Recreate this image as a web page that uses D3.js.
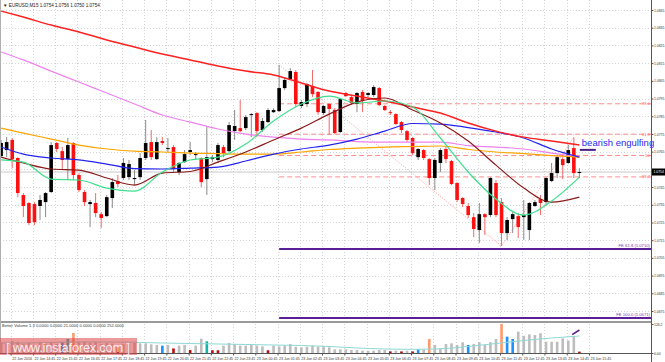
<!DOCTYPE html>
<html>
<head>
<meta charset="utf-8">
<script src="https://cdn.jsdelivr.net/npm/d3@7"></script>
<style>
html, body { margin: 0; padding: 0; background: #fff; }
svg { display: block; font-family: "Liberation Sans", Arial, sans-serif; }
</style>
</head>
<body>
<div class="container"></div>
<script>
// EURUSD M15 candles
var openP = [
  1.07625,1.07659,1.07716,1.07614,1.07405,1.07360,1.07354,1.07343,1.07365,1.07422,
  1.07699,1.07653,1.07608,1.07699,1.07518,1.07422,1.07354,1.07360,1.07297,1.07286,
  1.07388,1.07484,1.07501,1.07506,1.07495,1.07506,1.07614,1.07704,1.07608,1.07710,
  1.07665,1.07676,1.07535,1.07591,1.07648,1.07631,1.07614,1.07495,1.07608,1.07603,
  1.07676,1.07653,1.07766,1.07783,1.07783,1.07857,1.07868,1.07772,1.07817,1.07873,
  1.07879,1.08009,1.08060,1.08100,1.07908,1.07919,1.08021,1.07987,1.07868,1.07919,
  1.07885,1.07761,1.07981,1.07958,1.07919,1.07987,1.07970,1.07970,1.08009,1.07908,
  1.07873,1.07862,1.07817,1.07766,1.07727,1.07619,1.07659,1.07608,1.07501,1.07586,
  1.07665,1.07597,1.07473,1.07388,1.07343,1.07280,1.07207,1.07297,1.07292,1.07473,
  1.07365,1.07190,1.07269,1.07286,1.07280,1.07207,1.07343,1.07382,1.07365,1.07484,
  1.07529,1.07608,1.07586,1.07670,1.07535];
var highP = [
  1.07716,1.07732,1.07727,1.07619,1.07416,1.07365,1.07365,1.07405,1.07422,1.07704,
  1.07704,1.07676,1.07727,1.07704,1.07529,1.07433,1.07377,1.07416,1.07309,1.07405,
  1.07501,1.07518,1.07614,1.07603,1.07546,1.07642,1.07829,1.07772,1.07732,1.07732,
  1.07727,1.07687,1.07591,1.07659,1.07704,1.07648,1.07619,1.07789,1.07631,1.07699,
  1.07687,1.07817,1.07885,1.07942,1.07857,1.07868,1.07873,1.07840,1.07896,1.07896,
  1.08139,1.08071,1.08122,1.08111,1.07942,1.08038,1.08111,1.07992,1.07913,1.07925,
  1.07896,1.07953,1.07987,1.07970,1.07987,1.07998,1.07987,1.08026,1.08015,1.07913,
  1.07885,1.07868,1.07823,1.07772,1.07732,1.07670,1.07665,1.07614,1.07614,1.07670,
  1.07676,1.07603,1.07478,1.07393,1.07360,1.07303,1.07360,1.07303,1.07506,1.07490,
  1.07388,1.07280,1.07309,1.07303,1.07377,1.07365,1.07377,1.07405,1.07506,1.07586,
  1.07631,1.07619,1.07687,1.07732,1.07557];
var lowP = [
  1.07619,1.07619,1.07557,1.07393,1.07280,1.07235,1.07235,1.07264,1.07280,1.07416,
  1.07648,1.07546,1.07490,1.07490,1.07422,1.07343,1.07224,1.07280,1.07218,1.07280,
  1.07331,1.07450,1.07490,1.07490,1.07461,1.07490,1.07603,1.07603,1.07603,1.07687,
  1.07648,1.07535,1.07518,1.07586,1.07631,1.07603,1.07450,1.07405,1.07591,1.07586,
  1.07619,1.07648,1.07716,1.07761,1.07772,1.07732,1.07732,1.07761,1.07812,1.07868,
  1.07873,1.07998,1.08055,1.07902,1.07896,1.07902,1.07958,1.07857,1.07857,1.07744,
  1.07749,1.07755,1.07958,1.07913,1.07873,1.07873,1.07958,1.07958,1.07908,1.07879,
  1.07857,1.07800,1.07755,1.07704,1.07631,1.07603,1.07603,1.07461,1.07433,1.07535,
  1.07586,1.07461,1.07365,1.07337,1.07275,1.07167,1.07134,1.07179,1.07280,1.07280,
  1.07117,1.07151,1.07190,1.07162,1.07151,1.07151,1.07337,1.07292,1.07348,1.07478,
  1.07501,1.07495,1.07580,1.07501,1.07501];
var closeP = [
  1.07699,1.07704,1.07608,1.07416,1.07343,1.07247,1.07252,1.07377,1.07416,1.07687,
  1.07665,1.07603,1.07687,1.07518,1.07433,1.07365,1.07365,1.07303,1.07275,1.07393,
  1.07478,1.07467,1.07586,1.07580,1.07501,1.07614,1.07699,1.07619,1.07704,1.07699,
  1.07670,1.07552,1.07586,1.07636,1.07659,1.07636,1.07478,1.07619,1.07619,1.07687,
  1.07642,1.07800,1.07795,1.07766,1.07845,1.07862,1.07766,1.07823,1.07885,1.07885,
  1.08009,1.08055,1.08105,1.07919,1.07930,1.08032,1.07975,1.07873,1.07908,1.07891,
  1.07755,1.07947,1.07964,1.07925,1.07981,1.07936,1.07981,1.08015,1.07913,1.07885,
  1.07868,1.07806,1.07772,1.07716,1.07642,1.07665,1.07614,1.07501,1.07603,1.07659,
  1.07608,1.07467,1.07377,1.07354,1.07292,1.07213,1.07297,1.07280,1.07501,1.07292,
  1.07190,1.07264,1.07297,1.07224,1.07292,1.07360,1.07365,1.07360,1.07501,1.07529,
  1.07619,1.07574,1.07659,1.07529,1.07535];

// Better Volume bars and their colour code (g grey, r red, b blue, o orange, t teal)
var volume = [
  44,39,52,48,39,44,35,48,39,47,
  39,47,61,87,47,49,44,47,39,44,
  41,25,39,41,44,42,42,38,35,32,
  35,20,32,35,13,32,62,51,12,12,
  32,44,39,32,32,39,32,29,12,32,
  29,32,39,27,25,27,32,27,29,25,
  16,16,16,13,13,10,10,10,13,13,
  7,10,7,10,7,16,16,61,35,20,
  39,42,35,47,35,39,47,35,47,61,
  126,71,61,93,75,81,78,86,49,49,
  49,64,54,71,6];
var volumeKind = (
  "ggggggggggg" + "bto" + "ggggggg" + "r" + "ggggggg" + "b" + "g" + "r" + "gg" + "r" + "gg" + "t" + "rr" +
  "gggggggg" + "r" + "ggggggggggggggggggggg" + "r" + "g" + "r" + "g" + "r" + "b" + "g" + "o" +
  "gggggg" + "b" + "ggggg" + "o" + "bb" + "ggggggggggg" + "r").split("");

// moving averages, read every 5th bar
var maBars = [1,5,10,15,20,25,30,35,40,45,50,55,60,65,70,75,80,85,90,95,100,105];
var maRed = [1.08444,1.08410,1.08365,1.08326,1.08281,1.08241,1.08201,1.08168,1.08134,1.08105,1.08083,
             1.08038,1.07992,1.07964,1.07936,1.07902,1.07868,1.07812,1.07766,1.07732,1.07710,1.07687];
var maViolet = [1.08213,1.08168,1.08105,1.08043,1.07981,1.07919,1.07857,1.07817,1.07778,1.07749,1.07732,
                1.07721,1.07716,1.07707,1.07704,1.07704,1.07704,1.07684,1.07676,1.07665,1.07642,1.07619];
var maOrange = [1.07783,1.07755,1.07721,1.07687,1.07665,1.07653,1.07648,1.07642,1.07639,1.07636,1.07636,
                1.07648,1.07662,1.07670,1.07676,1.07679,1.07682,1.07662,1.07648,1.07639,1.07628,1.07619];
var maBlue = [1.07676,1.07636,1.07614,1.07603,1.07580,1.07554,1.07552,1.07557,1.07563,1.07597,1.07636,
              1.07665,1.07687,1.07721,1.07766,1.07809,1.07806,1.07786,1.07761,1.07727,1.07665,1.07619];
var maBrown = [1.07619,1.07586,1.07552,1.07546,1.07501,1.07461,1.07529,1.07538,1.07591,1.07648,1.07716,
               1.07783,1.07862,1.07930,1.07953,1.07885,1.07812,1.07710,1.07574,1.07444,1.07365,1.07393];
var maGreen = [1.07603,1.07591,1.07495,1.07490,1.07444,1.07427,1.07535,1.07603,1.07619,1.07693,1.07823,
               1.07919,1.07964,1.07925,1.07936,1.07902,1.07727,1.07535,1.07382,1.07292,1.07371,1.07506];
var volumeMA = [43.5,43.5,45.7,47.9,47.9,46.5,43.5,41.3,39.2,37.0,34.8,32.6,28.3,21.8,17.4,16.1,18.3,28.3,41.3,54.4,65.3,74.0];

var priceTicks = [1.0675,1.0685,1.0695,1.0705,1.0715,1.0725,1.0735,1.0745,1.0755,
                  1.0765,1.0775,1.0785,1.0795,1.0805,1.0815,1.0825,1.0835,1.0845];
var timeLabels = ["22 Jun 2016","22 Jun 14:45","22 Jun 15:45","22 Jun 16:45","22 Jun 17:45","22 Jun 18:45",
  "22 Jun 19:45","22 Jun 20:45","22 Jun 21:45","22 Jun 22:45","22 Jun 23:45","23 Jun 00:45","23 Jun 01:45",
  "23 Jun 02:45","23 Jun 03:45","23 Jun 04:45","23 Jun 05:45","23 Jun 06:45","23 Jun 07:45","23 Jun 08:45",
  "23 Jun 09:45","23 Jun 10:45","23 Jun 11:45","23 Jun 12:45","23 Jun 13:45","23 Jun 14:45","23 Jun 15:45"];
var volumeTicks = [0, 126.2];
var volumeTickLabels = ["0.00", "126.2"];

// fibo points (bar numbers): swing high, swing low, retest high
var fiboA = 51, fiboB = 91, fiboC = 104;
var retraceLevels = [38.2, 50, 61.8, 78.6];
var expansionLevels = [61.8, 100];

var W = 665, H = 362;
var plotRight = 651, mainBottom = 321, volTop = 323, volBottom = 353;

var svg = d3.select('.container')
  .append('svg')
  .attr('width', W)
  .attr('height', H);

var x = d3.scaleLinear().domain([1, 105]).range([1.1, 579.4]);
var y = d3.scaleLinear().domain([1.0675, 1.0845]).range([311, 10]);
var yv = d3.scaleLinear().domain([0, 126.2]).range([volBottom, 324]);

svg.append('rect').attr('width', W).attr('height', H).attr('fill', '#fff');

var defs = svg.append('defs');
defs.append('clipPath').attr('id', 'clipMain')
  .append('rect').attr('x', 0).attr('y', 0).attr('width', plotRight).attr('height', mainBottom);
defs.append('clipPath').attr('id', 'clipVol')
  .append('rect').attr('x', 0).attr('y', volTop).attr('width', plotRight).attr('height', volBottom - volTop);

var labelBars = timeLabels.map(function(d, i) { return 2 + 4 * i; });
var last = closeP.length - 1;

// grid
var grid = svg.append('g').attr('class', 'grid')
  .attr('stroke', '#d4d4d4').attr('stroke-width', 1).attr('stroke-dasharray', '1,2');
grid.selectAll('line.h')
  .data(priceTicks)
  .enter()
  .append('line')
  .attr('class', 'h')
  .attr('x1', 0).attr('x2', plotRight)
  .attr('y1', function(d) { return Math.round(y(d)) + 0.5; })
  .attr('y2', function(d) { return Math.round(y(d)) + 0.5; });
grid.selectAll('line.v')
  .data(labelBars)
  .enter()
  .append('line')
  .attr('class', 'v')
  .attr('y1', 0).attr('y2', volBottom)
  .attr('x1', function(d) { return Math.round(x(d) + 4) + 0.5; })
  .attr('x2', function(d) { return Math.round(x(d) + 4) + 0.5; });

var main = svg.append('g').attr('clip-path', 'url(#clipMain)');

// current price line
main.append('line')
  .attr('x1', 0).attr('x2', plotRight)
  .attr('y1', y(closeP[last])).attr('y2', y(closeP[last]))
  .attr('stroke', '#c8c8c8').attr('stroke-width', 1);

// fibo retracement from swing low up to swing high
var pA = highP[fiboA - 1], pB = lowP[fiboB - 1], pC = highP[fiboC - 1];
var fib = main.append('g').attr('class', 'fibo');
fib.selectAll('line')
  .data(retraceLevels)
  .enter()
  .append('line')
  .attr('x1', x(fiboA)).attr('x2', plotRight)
  .attr('y1', function(d) { return y(pB + d / 100 * (pA - pB)); })
  .attr('y2', function(d) { return y(pB + d / 100 * (pA - pB)); })
  .attr('stroke', '#ff8c8c').attr('stroke-width', 1).attr('stroke-dasharray', '5,3');
fib.selectAll('text')
  .data(retraceLevels)
  .enter()
  .append('text')
  .attr('x', plotRight - 1)
  .attr('y', function(d) { return y(pB + d / 100 * (pA - pB)) + 1.5; })
  .attr('text-anchor', 'end')
  .attr('font-size', 4.2)
  .attr('fill', '#ff6a6a')
  .text(function(d) { return d; });

// dotted swing lines A-B-C
main.append('path')
  .attr('d', d3.line()([[x(fiboA), y(pA)], [x(fiboB), y(pB)], [x(fiboC), y(pC)]]))
  .attr('fill', 'none').attr('stroke', '#ff9a9a').attr('stroke-width', 1).attr('stroke-dasharray', '1,1.5');

// fibo expansion
var fe = main.append('g').attr('class', 'expansion');
fe.selectAll('line')
  .data(expansionLevels)
  .enter()
  .append('line')
  .attr('x1', x(fiboA)).attr('x2', plotRight)
  .attr('y1', function(d) { return y(pC - d / 100 * (pA - pB)); })
  .attr('y2', function(d) { return y(pC - d / 100 * (pA - pB)); })
  .attr('stroke', '#5a1e96').attr('stroke-width', 2);
fe.selectAll('text')
  .data(expansionLevels)
  .enter()
  .append('text')
  .attr('x', plotRight - 1)
  .attr('y', function(d) { return y(pC - d / 100 * (pA - pB)) - 1.8; })
  .attr('text-anchor', 'end')
  .attr('font-size', 4.2)
  .attr('fill', '#7a3cb4')
  .text(function(d) { return 'FE ' + d.toFixed(1) + ' (' + (pC - d / 100 * (pA - pB)).toFixed(4) + ')'; });

// candles
var bars = d3.range(closeP.length).map(function(i) {
  return { n: i + 1, o: openP[i], h: highP[i], l: lowP[i], c: closeP[i] };
});
var candles = main.append('g').attr('class', 'candles');
candles.selectAll('line')
  .data(bars)
  .enter()
  .append('line')
  .attr('x1', function(d) { return x(d.n); })
  .attr('x2', function(d) { return x(d.n); })
  .attr('y1', function(d) { return y(d.h); })
  .attr('y2', function(d) { return y(d.l); })
  .attr('stroke', function(d) { return d.c >= d.o ? '#8a8a8a' : '#f06a6a'; })
  .attr('stroke-width', 1);
candles.selectAll('rect')
  .data(bars)
  .enter()
  .append('rect')
  .attr('x', function(d) { return x(d.n) - 1.8; })
  .attr('width', 3.6)
  .attr('y', function(d) { return y(Math.max(d.o, d.c)); })
  .attr('height', function(d) { return Math.max(1, Math.abs(y(d.o) - y(d.c))); })
  .attr('fill', function(d) { return d.c >= d.o ? '#000' : '#ff1010'; });

// moving averages
var maLine = d3.line()
  .x(function(d, i) { return x(maBars[i]); })
  .y(function(d) { return y(d); })
  .curve(d3.curveMonotoneX);
var maSeries = [
  { v: maViolet, color: '#ee82ee', w: 1.2 },
  { v: maOrange, color: '#ffa500', w: 1.2 },
  { v: maBlue, color: '#2323f0', w: 1.2 },
  { v: maRed, color: '#ff2020', w: 1.5 },
  { v: maBrown, color: '#8b1a1a', w: 1.2 },
  { v: maGreen, color: '#3ee08e', w: 1.2 }
];
main.selectAll('path.ma')
  .data(maSeries)
  .enter()
  .append('path')
  .attr('class', 'ma')
  .attr('d', function(d) { return maLine(d.v); })
  .attr('fill', 'none')
  .attr('stroke', function(d) { return d.color; })
  .attr('stroke-width', function(d) { return d.w; });

// annotation
main.append('line')
  .attr('x1', x(104) + 6).attr('x2', x(104) + 22)
  .attr('y1', y(1.07660)).attr('y2', y(1.07660))
  .attr('stroke', '#4b1b8a').attr('stroke-width', 2);
svg.append('text')
  .attr('x', x(104) + 8).attr('y', y(1.07660) - 3.5)
  .attr('font-size', 9.5)
  .attr('fill', '#2a2af0')
  .text('bearish engulfing');

// title
svg.append('text')
  .attr('x', 3).attr('y', 6.5)
  .attr('font-size', 4.6)
  .attr('fill', '#222')
  .text('\u25BC EURUSD,M15 ' + [openP[last], highP[last], lowP[last], closeP[last]].map(d3.format('.4f')).join(' '));

// separators and frame
svg.append('rect').attr('x', 0).attr('y', mainBottom).attr('width', plotRight).attr('height', 2).attr('fill', '#9a9a9a');
svg.append('line').attr('x1', 0.5).attr('x2', 0.5).attr('y1', 0).attr('y2', volBottom)
  .attr('stroke', '#b0b0b0');
svg.append('line').attr('x1', plotRight + 0.5).attr('x2', plotRight + 0.5).attr('y1', 0).attr('y2', H)
  .attr('stroke', '#555');
svg.append('line').attr('x1', 0).attr('x2', plotRight).attr('y1', volBottom + 0.5).attr('y2', volBottom + 0.5)
  .attr('stroke', '#555');

// price axis (the tick under the current price box is hidden, as in the terminal)
var curY = y(closeP[last]);
var yAxis = d3.axisRight(y)
  .tickValues(priceTicks.filter(function(d) { return Math.abs(y(d) - curY) > 5; }))
  .tickSize(2).tickFormat(d3.format('.4f'));
var ya = svg.append('g').attr('transform', 'translate(' + (plotRight + 0.5) + ',0)').call(yAxis);
ya.select('.domain').remove();
ya.selectAll('text').attr('font-size', 3.4).attr('fill', '#333').attr('x', 2.5);
ya.selectAll('line').attr('stroke', '#555');
ya.attr('font-family', null);

// current price marker
var cp = svg.append('g').attr('transform', 'translate(' + (plotRight + 1) + ',' + curY + ')');
cp.append('rect').attr('x', 0).attr('y', -3.5).attr('width', W - plotRight - 1).attr('height', 7).attr('fill', '#000');
cp.append('text').attr('x', 1.5).attr('y', 1.3).attr('font-size', 3.4).attr('fill', '#fff')
  .text(d3.format('.4f')(closeP[last]));

// volume panel
var vol = svg.append('g').attr('clip-path', 'url(#clipVol)');
var volColors = { g: '#bdbdbd', r: '#b81010', b: '#1e8fff', o: '#ff9a6c', t: '#12b5a6' };
vol.selectAll('rect')
  .data(volume)
  .enter()
  .append('rect')
  .attr('x', function(d, i) { return x(i + 1) - 1.3; })
  .attr('width', 2.6)
  .attr('y', function(d) { return yv(d); })
  .attr('height', function(d) { return volBottom - yv(d); })
  .attr('fill', function(d, i) { return volColors[volumeKind[i]] || '#bdbdbd'; });
vol.append('path')
  .attr('d', d3.line()
    .x(function(d, i) { return x(maBars[i]); })
    .y(function(d) { return yv(d); })
    .curve(d3.curveMonotoneX)(volumeMA))
  .attr('fill', 'none').attr('stroke', '#8ed8d4').attr('stroke-width', 1);
vol.append('line')
  .attr('x1', x(103.7)).attr('x2', x(105))
  .attr('y1', yv(80)).attr('y2', yv(100))
  .attr('stroke', '#5a1e96').attr('stroke-width', 1.6);

svg.append('text')
  .attr('x', 2).attr('y', 327)
  .attr('font-size', 4)
  .attr('fill', '#333')
  .attr('textLength', 122)
  .text('Better Volume 1.3 0.0000 0.0000 21.0000 0.0000 0.0000 252.0000');

var vAxis = d3.axisRight(yv).tickValues(volumeTicks).tickSize(2)
  .tickFormat(function(d, i) { return volumeTickLabels[i]; });
var va = svg.append('g').attr('transform', 'translate(' + (plotRight + 0.5) + ',0)').call(vAxis);
va.select('.domain').remove();
va.selectAll('text').attr('font-size', 3.4).attr('fill', '#333').attr('x', 2.5);
va.selectAll('line').attr('stroke', '#555');
va.attr('font-family', null);

// time axis
var xAxis = d3.axisBottom(x).tickValues(labelBars).tickSize(2)
  .tickFormat(function(d, i) { return timeLabels[i]; });
var xa = svg.append('g').attr('transform', 'translate(4,' + (volBottom + 0.5) + ')').call(xAxis);
xa.select('.domain').remove();
xa.selectAll('text').attr('font-size', 3.6).attr('fill', '#333')
  .attr('text-anchor', 'start').attr('x', 1).attr('y', 3).attr('dy', '0.9em');
xa.selectAll('line').attr('stroke', '#555');
xa.attr('font-family', null);

// watermark
var wm = svg.append('g');
wm.append('rect').attr('x', 0).attr('y', 338).attr('width', 137).attr('height', 17)
  .attr('fill', 'rgba(222,70,70,0.55)');
wm.append('text').attr('x', 6).attr('y', 351.5)
  .attr('font-size', 13)
  .attr('fill', 'rgba(255,255,255,0.85)')
  .attr('textLength', 124)
  .text('[ www.instaforex.com ]');
</script>
</body>
</html>
